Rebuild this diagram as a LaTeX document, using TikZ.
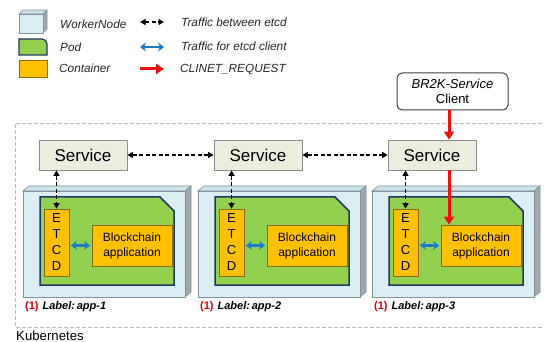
\documentclass[tikz,border=0pt]{standalone}
\usepackage{fontspec}
\setmainfont{Liberation Sans}
\usetikzlibrary{arrows.meta,calc}
\definecolor{svcfill}{HTML}{EBEDDE}
\definecolor{svcdraw}{HTML}{8C8C8C}
\definecolor{podgreen}{HTML}{92D050}
\definecolor{podborder}{HTML}{1F3864}
\definecolor{contfill}{HTML}{FFC000}
\definecolor{contdraw}{HTML}{8A6A10}
\definecolor{wnfront}{HTML}{DAEEF3}
\definecolor{wntop}{HTML}{CCE2E9}
\definecolor{wnside}{HTML}{A3A8AA}
\definecolor{wndraw}{HTML}{7F949C}
\definecolor{blueArr}{HTML}{1F7CC8}
\definecolor{redArr}{HTML}{F01010}
\definecolor{outer}{HTML}{B8B8B8}
\tikzset{
  svcbox/.style={draw=svcdraw, fill=svcfill, line width=0.8pt, minimum width=88pt, minimum height=30pt, inner sep=0pt, font=\fontsize{17}{20}\selectfont},
  etcdbox/.style={draw=contdraw, fill=contfill, line width=0.7pt, minimum width=25pt, minimum height=67pt, inner sep=0pt, align=center, font=\fontsize{13}{16}\selectfont},
  appbox/.style={draw=contdraw, fill=contfill, line width=0.7pt, minimum width=80pt, minimum height=41pt, inner sep=0pt, align=center, font=\fontsize{12}{15}\selectfont},
  legtext/.style={anchor=west, inner sep=0pt, font=\fontsize{11.8}{13}\selectfont\itshape, text=black!85},
  lbltext/.style={anchor=west, inner sep=0pt, font=\fontsize{11}{13}\selectfont\bfseries},
  etcdarrow/.style={line width=1.9pt, dash pattern=on 4pt off 2.5pt, {Triangle[length=5.5pt,width=6pt]}-{Triangle[length=5.5pt,width=6pt]}},
  bluearrow/.style={draw=blueArr, line width=2.2pt, {Stealth[length=6pt,width=9pt,inset=2pt]}-{Stealth[length=6pt,width=9pt,inset=2pt]}},
  redarrow/.style={draw=redArr, line width=3pt, -{Triangle[length=8pt,width=10pt]}},
}
\begin{document}
\begin{tikzpicture}[x=1pt,y=-1pt]
\useasboundingbox (0,0) rectangle (544,342);
\fill[white] (0,0) rectangle (544,342);
% outer dashed frame
\draw[outer, line width=0.8pt, dash pattern=on 4pt off 2pt] (560,123) -- (15,123) -- (15,327) -- (560,327);
\node[anchor=west, inner sep=0pt, font=\fontsize{13.2}{15}\selectfont] (kube) at (16,336) {Kubernetes};

% legend icons
\filldraw[draw=wndraw, fill=wntop, line width=0.6pt] (19,14) -- (23,10) -- (47,10) -- (43,14) -- cycle;
\filldraw[draw=wndraw, fill=wnside, line width=0.6pt] (43,14) -- (47,10) -- (47,29) -- (43,33) -- cycle;
\filldraw[draw=wndraw, fill=wnfront, line width=0.6pt] (19,14) rectangle (43,33);
\filldraw[draw=podborder, fill=podgreen, line width=1.2pt] (19,39) -- (42,39) to[out=0,in=90] (47,44) -- (47,55) -- (19,55) -- cycle;
\filldraw[draw=contdraw, fill=contfill, line width=0.7pt] (19,60) rectangle (47,77);
\node[legtext] (lwn) at (60,24) {WorkerNode};
\node[legtext] (lpod) at (60,47) {Pod};
\node[legtext] (lcont) at (59,68) {Container};
\coordinate (la1) at (140,22); \coordinate (la2) at (164,22);
\coordinate (lb1) at (140,47); \coordinate (lb2) at (164,47);
\coordinate (lc1) at (140,69); \coordinate (lc2) at (164,69);
\draw[etcdarrow] (la1) -- (la2);
\draw[bluearrow] (lb1) -- (lb2);
\draw[redarrow] (lc1) -- (lc2);
\node[legtext] (lt1) at (181,22) {Traffic between etcd};
\node[legtext] (lt2) at (181,46) {Traffic for etcd client};
\node[legtext] (lt3) at (180,69) {CLINET\_REQUEST};

% client
\node[draw=black!75, fill=white, rounded corners=5pt, line width=1pt, minimum width=111pt, minimum height=37pt, inner sep=0pt, align=center, font=\fontsize{13}{15}\selectfont] (client) at (452.5,91.5) {\textit{BR2K-Service}\\Client};

% columns
\foreach \i/\dx in {1/0,2/175,3/349}{
  \begin{scope}[xshift=\dx]
    % worker node
    \filldraw[draw=wndraw, fill=wntop, line width=0.6pt] (23,191) -- (29,186) -- (191,186) -- (185,191) -- cycle;
    \filldraw[draw=wndraw, fill=wnside, line width=0.6pt] (185,191) -- (191,186) -- (191,292) -- (185,297) -- cycle;
    \filldraw[draw=wndraw, fill=wnfront, line width=0.6pt] (23,191) rectangle (185,297);
    % pod
    \filldraw[draw=podborder, fill=podgreen, line width=1.5pt] (40,197) -- (160,197) -- (174,211) -- (174,285) -- (40,285) -- cycle;
    \node[svcbox] (svc\i) at (83,155) {Service};
    \node[etcdbox] (etcd\i) at (56.5,242.5) {E\\T\\C\\D};
    \node[appbox] (app\i) at (132,245.5) {Blockchain\\application};
    \node[lbltext] (lbl\i) at (25,307) {\textcolor{red!85!black}{(1)}\hspace{4pt}\textit{Label:\,app-\i}};
  \end{scope}
}
% etcd <-> service
\foreach \i in {1,2,3}{
  \draw[etcdarrow] (svc\i.south -| etcd\i.north) -- (etcd\i.north);
  \draw[bluearrow] ($(etcd\i.east)+(1.5,3)$) -- ($(app\i.west |- etcd\i.east)+(-1.5,3)$);
}
% service <-> service
\draw[etcdarrow] (svc1.east) -- (svc2.west);
\draw[etcdarrow] (svc2.east) -- (svc3.west);
% client request
\coordinate (rx) at (449,0);
\draw[redarrow] (client.south -| rx) -- (svc3.north -| rx);
\draw[redarrow] (svc3.south -| rx) -- (app3.north -| rx);
\end{tikzpicture}
\end{document}
